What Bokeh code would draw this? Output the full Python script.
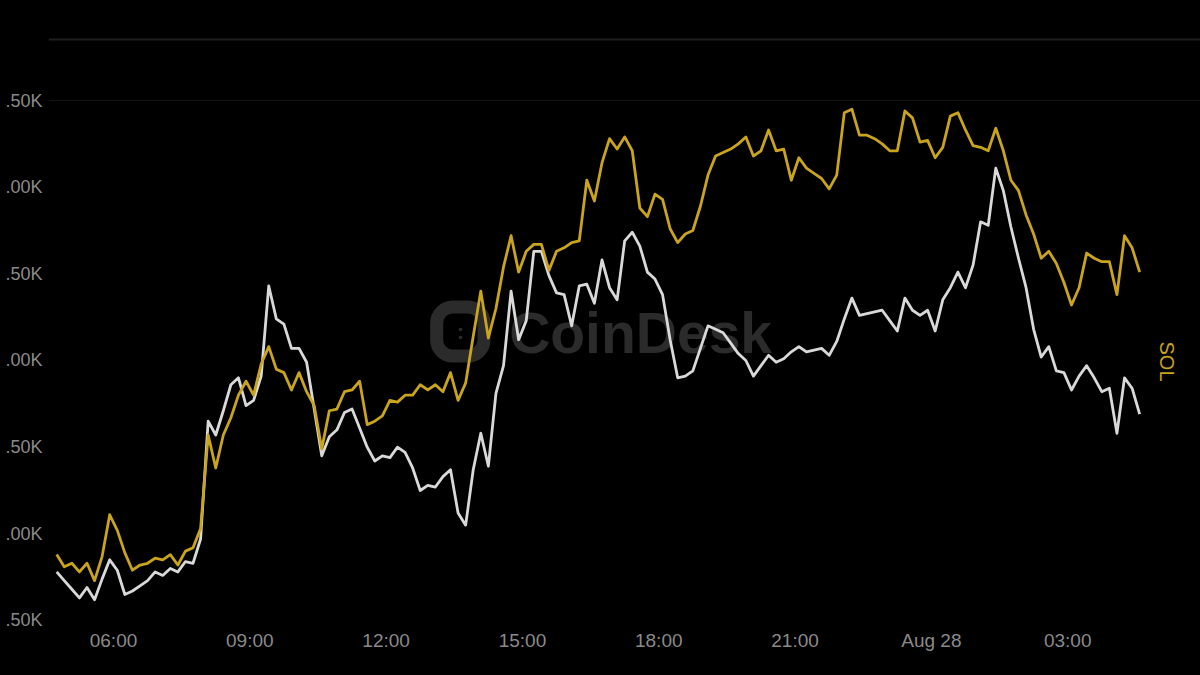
import pandas as pd
from math import pi
from bokeh.plotting import figure
from bokeh.models import Range1d, FixedTicker, Span, Label, ColumnDataSource
from bokeh.embed import file_html
from bokeh.resources import INLINE

# ---- data (10-minute samples) ----
start_time = "2024-08-27 04:45"
n_points = 144

sol = [1.88, 1.81, 1.83, 1.78, 1.83, 1.73, 1.87, 2.11, 2.02, 1.89,
       1.79, 1.82, 1.83, 1.86, 1.85, 1.88, 1.82, 1.90, 1.92, 2.03,
       2.57, 2.38, 2.57, 2.67, 2.80, 2.88, 2.80, 2.98, 3.08, 2.95,
       2.93, 2.83, 2.93, 2.82, 2.74, 2.49, 2.71, 2.72, 2.82, 2.83,
       2.88, 2.63, 2.65, 2.68, 2.77, 2.76, 2.80, 2.80, 2.86, 2.83,
       2.86, 2.82, 2.93, 2.77, 2.87, 3.14, 3.40, 3.13, 3.30, 3.54,
       3.72, 3.51, 3.63, 3.67, 3.67, 3.52, 3.63, 3.65, 3.68, 3.69,
       4.04, 3.92, 4.14, 4.28, 4.22, 4.29, 4.21, 3.88, 3.83, 3.96,
       3.93, 3.76, 3.68, 3.73, 3.75, 3.89, 4.07, 4.18, 4.20, 4.22,
       4.25, 4.29, 4.18, 4.21, 4.33, 4.21, 4.22, 4.04, 4.17, 4.11,
       4.08, 4.05, 3.99, 4.07, 4.43, 4.45, 4.30, 4.30, 4.28, 4.25,
       4.21, 4.21, 4.44, 4.40, 4.26, 4.27, 4.17, 4.23, 4.41, 4.43,
       4.33, 4.24, 4.23, 4.21, 4.34, 4.21, 4.04, 3.98, 3.84, 3.73,
       3.59, 3.63, 3.56, 3.45, 3.32, 3.42, 3.62, 3.59, 3.57, 3.57,
       3.38, 3.72, 3.65, 3.51]

other = [1.78, 1.73, 1.68, 1.63, 1.69, 1.62, 1.74, 1.85, 1.79, 1.65,
         1.67, 1.70, 1.73, 1.78, 1.76, 1.80, 1.78, 1.84, 1.83, 1.97,
         2.65, 2.57, 2.71, 2.86, 2.90, 2.74, 2.77, 2.91, 3.43, 3.24,
         3.21, 3.07, 3.07, 2.99, 2.72, 2.45, 2.56, 2.60, 2.70, 2.72,
         2.61, 2.50, 2.42, 2.45, 2.44, 2.50, 2.47, 2.38, 2.25, 2.28,
         2.27, 2.33, 2.37, 2.12, 2.05, 2.37, 2.58, 2.39, 2.81, 2.97,
         3.40, 3.12, 3.23, 3.63, 3.63, 3.49, 3.39, 3.38, 3.20, 3.43,
         3.44, 3.33, 3.58, 3.42, 3.35, 3.69, 3.74, 3.66, 3.51, 3.47,
         3.38, 3.12, 2.90, 2.91, 2.94, 3.07, 3.20, 3.18, 3.16, 3.10,
         3.04, 3.00, 2.91, 2.97, 3.03, 2.99, 3.01, 3.05, 3.08, 3.05,
         3.06, 3.07, 3.03, 3.11, 3.24, 3.36, 3.26, 3.27, 3.28, 3.29,
         3.23, 3.17, 3.36, 3.29, 3.26, 3.29, 3.17, 3.35, 3.42, 3.51,
         3.42, 3.55, 3.80, 3.78, 4.11, 3.98, 3.77, 3.59, 3.42, 3.18,
         3.02, 3.08, 2.94, 2.93, 2.83, 2.91, 2.97, 2.90, 2.82, 2.84,
         2.58, 2.90, 2.84, 2.69]

y_ticks = [1.5, 2.0, 2.5, 3.0, 3.5, 4.0, 4.5]
y_tick_labels = [".50K", ".00K", ".50K", ".00K", ".50K", ".00K", ".50K"]

x_tick_times = ["2024-08-27 06:00", "2024-08-27 09:00", "2024-08-27 12:00",
                "2024-08-27 15:00", "2024-08-27 18:00", "2024-08-27 21:00",
                "2024-08-28 00:00", "2024-08-28 03:00"]
x_tick_labels = ["06:00", "09:00", "12:00", "15:00", "18:00", "21:00",
                 "Aug 28", "03:00"]

series_label = "SOL"
watermark = "CoinDesk"

# ---- styling ----
GOLD = "#c9a41c"
WHITE = "#d9d9d9"
TICK_COLOR = "#8a8a8a"
MARK = "#2b2b2b"
FONT = "Liberation Sans"


def ms(t):
    return int(pd.Timestamp(t).value // 1_000_000)


times = pd.date_range(start_time, periods=n_points, freq="10min")
src = ColumnDataSource(dict(t=times, sol=sol, other=other))

p = figure(width=1200, height=675, x_axis_type="datetime",
           x_range=Range1d(ms("2024-08-27 04:34:10"), ms("2024-08-28 05:55:20")),
           y_range=Range1d(1.471, 4.904),
           output_backend="svg", toolbar_location=None,
           min_border_left=48, min_border_right=0,
           min_border_top=30, min_border_bottom=50)

p.background_fill_color = "#000000"
p.border_fill_color = "#000000"
p.outline_line_color = None
p.xgrid.visible = False
p.ygrid.visible = False

# axes
p.xaxis.ticker = FixedTicker(ticks=[ms(t) for t in x_tick_times])
p.xaxis.major_label_overrides = {ms(t): lab for t, lab in zip(x_tick_times, x_tick_labels)}
p.yaxis.ticker = FixedTicker(ticks=y_ticks)
p.yaxis.major_label_overrides = {v: lab for v, lab in zip(y_ticks, y_tick_labels)}
for ax in (p.xaxis, p.yaxis):
    ax.axis_line_color = None
    ax.major_tick_line_color = None
    ax.minor_tick_line_color = None
    ax.major_tick_out = 0
    ax.major_tick_in = 0
    ax.major_label_text_color = TICK_COLOR
    ax.major_label_text_font = FONT
p.xaxis.major_label_text_font_size = "19px"
p.yaxis.major_label_text_font_size = "18px"
p.xaxis.major_label_standoff = 4
p.yaxis.major_label_standoff = 6

# faint lines
p.add_layout(Span(location=4.852, dimension="width", line_color="#1f1f1f", line_width=2))
p.add_layout(Span(location=4.5, dimension="width", line_color="#141414", line_width=1))

# watermark
p.add_layout(Label(x=ms("2024-08-27 17:36"), y=3.156, text=watermark,
                   text_font=FONT, text_font_style="bold", text_font_size="57px",
                   text_color=MARK, text_align="center", text_baseline="middle",
                   level="underlay"))
p.add_layout(Label(x=ms("2024-08-27 13:38"), y=3.167, text=":",
                   text_font=FONT, text_font_style="bold", text_font_size="22px",
                   text_color=MARK, text_align="center", text_baseline="middle",
                   border_line_color=MARK, border_line_width=13, border_radius=16,
                   padding=(20, 12), level="underlay"))

# lines
p.line("t", "other", source=src, line_color=WHITE, line_width=2.8, line_join="round")
p.line("t", "sol", source=src, line_color=GOLD, line_width=2.8, line_join="round")

# series label on the right
p.add_layout(Label(x=ms("2024-08-28 05:11"), y=2.994, text=series_label, angle=-pi / 2,
                   text_font=FONT, text_font_size="20px", text_color=GOLD,
                   text_align="center", text_baseline="middle"))

html = file_html(p, INLINE).replace(
    "<head>", "<head><style>html, body { background: #000000; }</style>", 1)
open("out.html", "w").write(html)
